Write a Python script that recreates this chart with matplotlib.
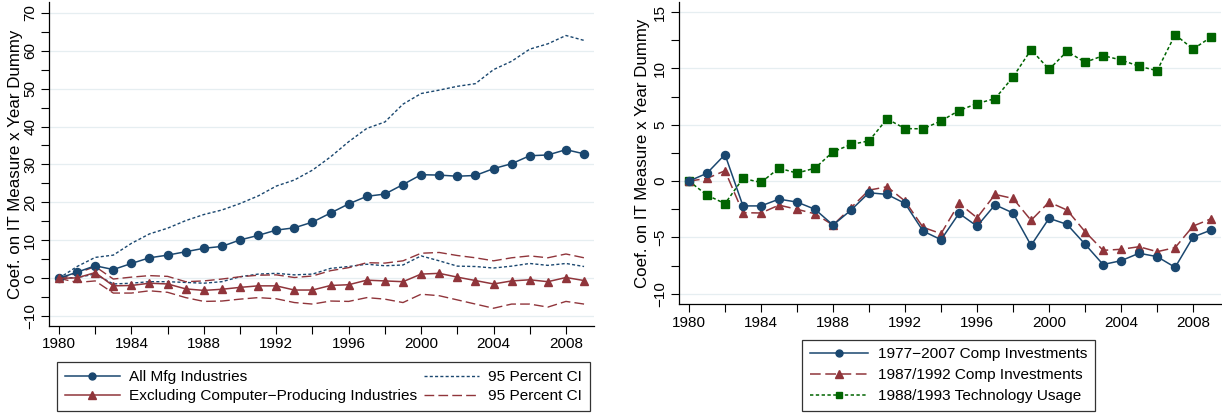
import matplotlib
matplotlib.use("Agg")
import matplotlib.pyplot as plt
from matplotlib.lines import Line2D
import numpy as np

plt.rcParams['font.family'] = ['Liberation Sans', 'DejaVu Sans']

years = list(range(1980, 2010))

# Left panel
all_mfg = [0, 1.6, 3.3, 2.3, 3.9, 5.4, 6.1, 7.0, 7.9, 8.4, 10.1, 11.3, 12.7, 13.3, 14.8,
           17.2, 19.6, 21.6, 22.2, 24.7, 27.3, 27.2, 26.9, 27.1, 28.9, 30.2, 32.3, 32.5, 33.9, 32.8]
all_mfg_hi = [0, 3.1, 5.5, 6.1, 9.2, 11.7, 13.2, 15.2, 16.8, 18.0, 19.7, 21.7, 24.3, 25.9, 28.5,
              32.0, 36.0, 39.5, 41.2, 45.9, 48.7, 49.6, 50.6, 51.3, 55.0, 57.2, 60.4, 61.8, 64.0, 62.7]
all_mfg_lo = [0, 0.2, 1.1, -1.5, -1.3, -0.9, -0.9, -1.1, -1.3, -0.9, 0.4, 1.1, 1.3, 0.9, 1.1,
              2.6, 3.1, 3.7, 3.3, 3.5, 5.9, 4.6, 3.2, 3.1, 2.7, 3.2, 3.9, 3.4, 3.9, 3.1]
excl = [0, 0.1, 1.5, -2.0, -1.9, -1.3, -1.5, -2.8, -3.2, -2.9, -2.4, -2.0, -2.0, -3.1, -3.1,
        -1.9, -1.7, -0.5, -0.7, -0.9, 1.1, 1.3, 0.3, -0.6, -1.5, -0.7, -0.4, -0.9, 0.2, -0.6]
excl_hi = [0, 1.3, 3.1, -0.2, 0.3, 0.7, 0.5, -0.9, -0.7, -0.2, 0.4, 0.8, 0.9, 0.2, 0.6,
           2.0, 2.8, 4.1, 4.0, 4.6, 6.6, 6.8, 6.0, 5.4, 4.6, 5.4, 5.9, 5.4, 6.4, 5.4]
excl_lo = [0, -1.1, -0.7, -3.9, -3.9, -3.3, -3.7, -5.1, -6.1, -6.0, -5.5, -5.1, -5.4, -6.4, -6.8,
           -6.0, -6.1, -5.1, -5.5, -6.4, -4.2, -4.6, -5.7, -6.8, -7.9, -6.8, -6.8, -7.6, -6.1, -6.8]

# Right panel
comp_7707 = [0, 0.7, 2.36, -2.2, -2.2, -1.6, -1.86, -2.5, -3.9, -2.57, -1.03, -1.18, -1.98, -4.43, -5.2,
             -2.86, -4.0, -2.1, -2.83, -5.7, -3.3, -3.84, -5.6, -7.4, -7.06, -6.4, -6.7, -7.65, -4.96, -4.34]
comp_8792 = [0, 0.24, 0.92, -2.8, -2.83, -2.13, -2.5, -2.9, -3.9, -2.36, -0.8, -0.5, -1.77, -4.1, -4.66,
             -1.98, -3.25, -1.18, -1.54, -3.48, -1.86, -2.57, -4.49, -6.14, -6.05, -5.82, -6.26, -5.9, -3.99, -3.34]
tech_8893 = [0, -1.24, -2.0, 0.24, -0.12, 1.15, 0.71, 1.15, 2.6, 3.25, 3.57, 5.52, 4.66, 4.64, 5.34,
             6.26, 6.88, 7.32, 9.24, 11.66, 9.92, 11.51, 10.54, 11.13, 10.75, 10.19, 9.8, 12.99, 11.72, 12.78]

NAVY = '#1a476f'
MAROON = '#90353b'
GREEN = '#006400'
GRID = '#e6eef1'
FS = 11
LFS = 11.1
YLFS = 12.2

fig = plt.figure(figsize=(12.22, 4.13), dpi=100)
axL = fig.add_axes([0.0401, 0.2114, 0.446, 0.7826])
axR = fig.add_axes([0.5557, 0.264, 0.4435, 0.730])

dot = (0, (2.2, 1.6))
longdash = (0, (7, 3))

def style(ax, ylim, ymajor, ystep_minor, lpad):
    for s in ['top', 'right']:
        ax.spines[s].set_visible(False)
    for s in ['left', 'bottom']:
        ax.spines[s].set_linewidth(0.9)
    ax.set_xlim(1979.45, 2009.55)
    ax.set_ylim(*ylim)
    xt = list(range(1980, 2010, 2))
    ax.set_xticks(xt)
    ax.set_xticklabels([str(y) if y % 4 == 0 else '' for y in xt], fontsize=FS)
    yt = np.arange(ymajor[0], ymajor[-1] + 1e-9, ystep_minor)
    ax.set_yticks(yt)
    ax.set_yticklabels([('%g' % v).replace('-', '\u2212') if any(abs(v - m) < 1e-9 for m in ymajor) else '' for v in yt],
                       fontsize=FS, rotation=90, va='center')
    for m in ymajor:
        ax.axhline(m, color=GRID, lw=0.9, zorder=0)
    ax.tick_params(direction='out', length=6, width=0.8, pad=2.5)
    ax.set_ylabel('Coef. on IT Measure x Year Dummy', fontsize=YLFS, labelpad=lpad)

# Left
axL.plot(years, all_mfg_hi, color=NAVY, lw=1.0, ls=dot, zorder=2)
axL.plot(years, all_mfg_lo, color=NAVY, lw=1.0, ls=dot, zorder=2)
axL.plot(years, excl_hi, color=MAROON, lw=1.0, ls=longdash, zorder=2)
axL.plot(years, excl_lo, color=MAROON, lw=1.0, ls=longdash, zorder=2)
axL.plot(years, all_mfg, color=NAVY, lw=1.1, marker='o', ms=5.8, zorder=3)
axL.plot(years, excl, color=MAROON, lw=1.1, marker='^', ms=6.3, zorder=3)
style(axL, (-12.5, 72.7), list(range(-10, 71, 10)), 5, 0)

hL = [Line2D([], [], color=NAVY, lw=1.1, marker='o', ms=5),
      Line2D([], [], color=MAROON, lw=1.1, marker='^', ms=5.5),
      Line2D([], [], color=NAVY, lw=1.0, ls=dot),
      Line2D([], [], color=MAROON, lw=1.0, ls=longdash)]
lL = ['All Mfg Industries', 'Excluding Computer\u2212Producing Industries',
      '95 Percent CI', '95 Percent CI']
legL = fig.legend(hL, lL, ncol=2, mode='expand', loc='lower left',
                  bbox_to_anchor=(57 / 1222, 2 / 413, 533 / 1222, 52 / 413),
                  fontsize=LFS, frameon=True, fancybox=False, edgecolor='black',
                  handlelength=3.6, handletextpad=0.6, labelspacing=0.35,
                  borderpad=0.5, columnspacing=0.6, borderaxespad=0)
legL.get_frame().set_linewidth(0.9)

# Right
axR.plot(years, tech_8893, color=GREEN, lw=1.1, ls=dot, marker='s', ms=6.2, zorder=3)
axR.plot(years, comp_8792, color=MAROON, lw=1.1, ls=longdash, marker='^', ms=6.3, zorder=3)
axR.plot(years, comp_7707, color=NAVY, lw=1.1, marker='o', ms=5.8, zorder=4)
style(axR, (-10.9, 15.85), list(range(-10, 16, 5)), 2.5, 2)

hR = [Line2D([], [], color=NAVY, lw=1.1, marker='o', ms=5),
      Line2D([], [], color=MAROON, lw=1.1, ls=longdash, marker='^', ms=5.5),
      Line2D([], [], color=GREEN, lw=1.1, ls=dot, marker='s', ms=5)]
lR = ['1977\u22122007 Comp Investments', '1987/1992 Comp Investments', '1988/1993 Technology Usage']
legR = fig.legend(hR, lR, ncol=1, loc='lower left',
                  bbox_to_anchor=(802 / 1222, 2 / 413),
                  fontsize=LFS, frameon=True, fancybox=False, edgecolor='black',
                  handlelength=3.8, handletextpad=0.6, labelspacing=0.45,
                  borderpad=0.5, borderaxespad=0)
legR.get_frame().set_linewidth(0.9)

fig.savefig('out.png', dpi=100)
